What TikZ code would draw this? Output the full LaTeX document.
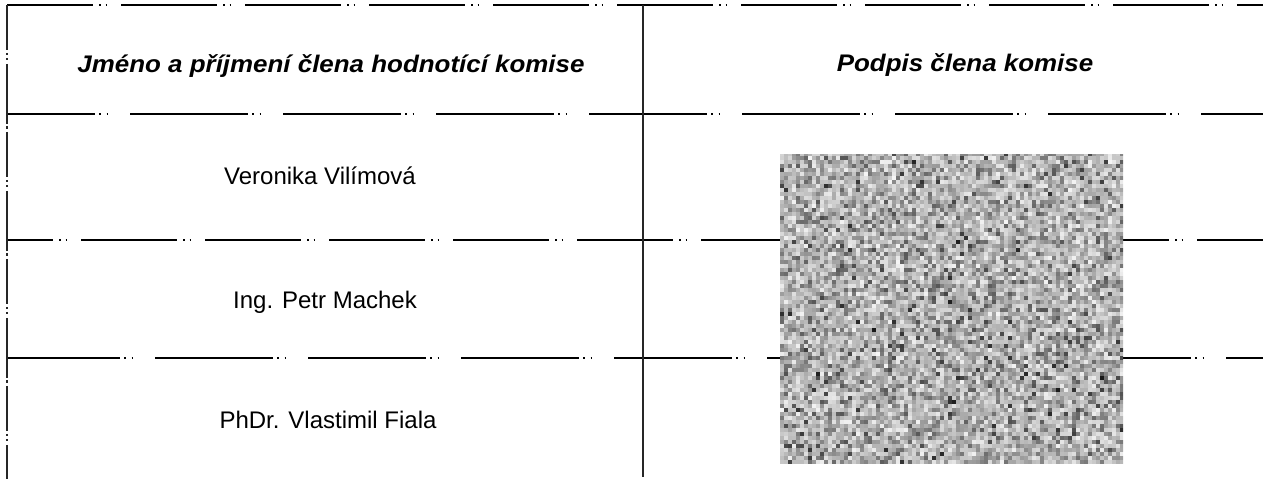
\documentclass[tikz,border=0pt]{standalone}
\usepackage{graphicx}
\usepackage{fontspec}
\setmainfont{Liberation Sans}
\begin{document}
\begin{tikzpicture}[x=1pt,y=1pt,
  rule/.style={line width=1.6pt, black},
  brk/.style={dash pattern=on 96pt off 6pt on 1.5pt off 5pt on 1.5pt off 14pt},
  brkb/.style={dash pattern=on 118pt off 4pt on 1.5pt off 6pt on 1.5pt off 22pt},
  vrule/.style={line width=1.3pt, black!85},
  vbrk/.style={dash pattern=on 45pt off 3pt on 2pt off 3pt on 2pt off 4pt on 60pt off 2pt on 3pt off 3pt},
  headtxt/.style={anchor=base, font=\fontsize{24}{28}\selectfont\bfseries\itshape},
  celltxt/.style={anchor=base, font=\fontsize{24}{28}\selectfont},
  sigbox/.style={minimum width=343pt, minimum height=309pt, inner sep=0pt, draw=none}
]
\useasboundingbox (0,0) rectangle (1263,479);
% grid coordinates
\coordinate (tl) at (7,474);   \coordinate (tr) at (1263,474);
\coordinate (hl) at (7,365);   \coordinate (hr) at (1263,365);
\coordinate (al) at (7,239);   \coordinate (ar) at (1263,239);
\coordinate (bl) at (7,121);   \coordinate (br) at (1263,121);
\coordinate (lb) at (7,0);
\coordinate (mt) at (643,474); \coordinate (mb) at (643,2);
% horizontal rules
\draw[rule,brk,dash phase=10pt] (tl) -- (tr);
\draw[rule,brkb,dash phase=30pt] (hl) -- (hr);
\draw[rule,brk,dash phase=50pt] (al) -- (ar);
\draw[rule,brkb,dash phase=5pt] (bl) -- (br);
% vertical rules
\draw[vrule,vbrk] (tl) -- (lb);
\draw[vrule] (mt) -- (mb);
% texts
\node[headtxt] (h1) at (331,406) {\scalebox{1.08}[1]{Jméno a příjmení člena hodnotící komise}};
\node[headtxt] (h2) at (965,407) {\scalebox{1.08}[1]{Podpis člena komise}};
\node[celltxt] (r1) at (320,294) {Veronika Vilímová};
\node[celltxt] (r2) at (325,170) {Ing. Petr Machek};
\node[celltxt] (r3) at (328,50) {PhDr. Vlastimil Fiala};
% signature image (noise)
\node[sigbox] (sig) at (951.5,169.5) {};
\fill[white] (sig.south west) rectangle (sig.north east);
\begin{scope}
\clip (sig.south west) rectangle (sig.north east);
\pgfmathsetseed{4242}
\foreach \i in {0,...,85}{
  \foreach \j in {0,...,77}{
    \pgfmathtruncatemacro\g{4+25*rnd+65*rnd*rnd}
    \fill[black!\g] (780+4*\i,15+4*\j) rectangle ++(4.2,4.2);
  }
}
\end{scope}
\end{tikzpicture}
\end{document}
